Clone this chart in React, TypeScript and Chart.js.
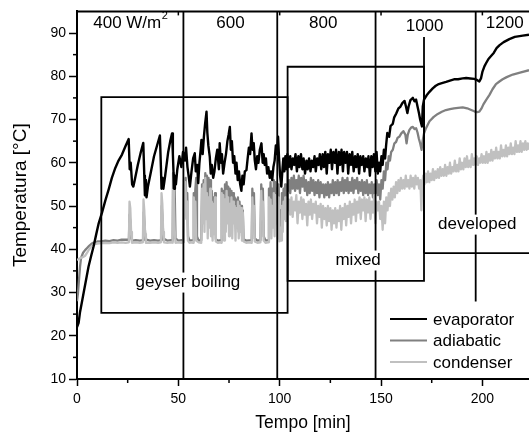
import { useEffect, useRef } from 'react';
import { Chart, registerables } from 'chart.js';

Chart.register(...registerables);

// ---------- axis ticks ----------
const xTickValues = [0, 50, 100, 150, 200];
const xMinorTicks = [25, 75, 125, 175];
const yTickValues = [10, 20, 30, 40, 50, 60, 70, 80, 90];
const yMinorTicks = [15, 25, 35, 45, 55, 65, 75, 85];

// ---------- series names ----------
const seriesNames = ['evaporator', 'adiabatic', 'condenser'];

// ---------- annotations (data units: minutes, °C) ----------
const powerLabels = ['400 W/m²', '600', '800', '1000', '1200'];
const powerLabelX = [26.3, 75.7, 121.5, 171.5, 211];
const powerLabelY = [92.2, 92.2, 92.2, 91.5, 92.2];
const regimeLabels = ['geyser boiling', 'mixed', 'developed'];
const regimeLabelX = [54.7, 138.7, 197.5];
const regimeLabelY = [32.3, 37.4, 45.7];
// vertical dividers: [time, from °C, to °C]
const dividers: [number, number, number][] = [
  [52.5, 10, 95],
  [98.8, 10, 95],
  [147.3, 10, 95],
  [196.7, 27.9, 95],
];
// boxes: [x0, x1, y0, y1]
const geyserBox = [12.0, 103.9, 25.3, 75.2];
const mixedBox = [103.9, 171.2, 32.7, 82.2];
const developedEdge = [171.2, 223, 39.1, 89.1];

// ---------- data [time min, temperature °C] ----------
const evaporator: [number, number][] = [
  [0, 22], [0.8, 23], [1.5, 25.5], [2.5, 28], [3.3, 30], [4.5, 33], [5.7, 36], [7, 38.5], [8.2, 40.7],
  [9.5, 43.5], [10.7, 46], [12.3, 48.4], [14, 51.3], [15.6, 53.8], [17.2, 56.5], [18.9, 58.8], [20.5, 60.5],
  [22.2, 61.9], [23.8, 63.7], [25.5, 65.5],
  [26, 58.5], [26.5, 60], [27.2, 55], [27.8, 54.5], [28.5, 56], [30, 59.5], [31.5, 62.5], [32.7, 64.6],
  [33.2, 57], [33.5, 52.5], [34, 56], [34.3, 52], [35, 54.5], [36.5, 58], [38, 61.5], [39.5, 64], [40.9, 66.3],
  [41.4, 59], [41.7, 54], [42.2, 56.5], [42.6, 54], [43.5, 57], [45, 62.5], [46, 65], [46.9, 66.8], [47.3, 62],
  [47.9, 54], [48.3, 57], [48.8, 55], [49.5, 58.5], [50.5, 61.5], [51.5, 59], [52.3, 62.5], [53.2, 60.5],
  [53.8, 63.5], [54.5, 59], [55.2, 56.5], [55.7, 54.5], [56.5, 58], [57.3, 61], [58.1, 62.2], [58.6, 58],
  [59.3, 59.5], [59.8, 55.3], [60.4, 60], [61, 63], [61.4, 65.3], [62, 62], [62.6, 66], [63.2, 69], [63.9, 71.8],
  [64.3, 67], [64.8, 64], [65.5, 61.4], [66, 57.5], [66.5, 59.5], [67.2, 56.5], [67.8, 58], [68.5, 61], [69.2, 63],
  [70, 58.5], [70.4, 64.5], [71, 60], [71.5, 62], [72.1, 57.5], [72.8, 60], [73.5, 62], [74.2, 65], [74.8, 66.5],
  [75.4, 68.3], [75.9, 63], [76.4, 65], [77, 60], [77.6, 61.5], [78.2, 57.5], [78.7, 60], [79.3, 56], [79.9, 58],
  [80.5, 55], [81.1, 53.5], [81.6, 57], [82.2, 55], [82.8, 58], [83.6, 58.3], [84.2, 61], [84.8, 63.5], [85.4, 62],
  [86.1, 66.8], [86.6, 63], [87.2, 64.5], [87.7, 60.6], [88.3, 58.5], [88.9, 61.5], [89.5, 60], [90.2, 63],
  [91, 64.5], [91.6, 60], [92.1, 62], [92.6, 59.5], [93.2, 61], [93.8, 57.5], [94.4, 59], [95.1, 56.5], [95.7, 58],
  [96.3, 56], [96.9, 59], [97.5, 60.5], [98.1, 64], [98.6, 62], [99.2, 66], [99.7, 61], [100.2, 57], [100.8, 54.5],
  [101.3, 58], [101.8, 61], [102.3, 58], [102.8, 61.5], [103.3, 58.5], [103.8, 62],
  [104.5, 59], [105.2, 61.5], [105.8, 58.5], [106.5, 61], [107.2, 59.5], [107.8, 62], [108.5, 58], [109.2, 61.5],
  [109.8, 59], [110.5, 62], [111.2, 58.5], [111.8, 61], [112.5, 57.5], [113.2, 60.5], [113.8, 58.5], [114.5, 61],
  [115.2, 58], [115.8, 60.5], [116.5, 59], [117.2, 61.5], [117.8, 58], [118.5, 61], [119.2, 59.5], [119.8, 62],
  [120.5, 58.5], [121.2, 62], [121.8, 59], [122.5, 62.5], [123.2, 57.5], [123.8, 62], [124.5, 60], [125.2, 63],
  [125.8, 58.5], [126.5, 62.5], [127.2, 60], [127.8, 63], [128.5, 57.5], [129.2, 62.5], [129.8, 59.5], [130.5, 63],
  [131.2, 58], [131.8, 62.5], [132.5, 60], [133.2, 62.5], [133.8, 57.5], [134.5, 62], [135.2, 59.5], [135.8, 62.5],
  [136.5, 58], [137.2, 61.5], [137.8, 59], [138.5, 62], [139.2, 57.5], [139.8, 61.5], [140.5, 59.5], [141.2, 61.5],
  [141.8, 58], [142.5, 61], [143.2, 59], [143.8, 61.5], [144.5, 57], [145.2, 61.5], [145.8, 59], [146.5, 62],
  [147.2, 58], [147.8, 62.5], [148.4, 57.5], [149, 60],
  [149.6, 58], [150.2, 61.5], [150.8, 59.5], [151.4, 63], [152, 61], [152.5, 64], [153.1, 66.9], [154, 66],
  [154.7, 68.5], [155.8, 69], [156.5, 70.5], [157.5, 71.4], [158.5, 72.5], [159.6, 73], [160.5, 73.8], [161.6, 74.3],
  [162.3, 73], [163, 71.5], [163.6, 73], [164.5, 74.5], [165.7, 75], [166.5, 74.2], [167.3, 74.6], [168, 73],
  [168.7, 71.5], [169.3, 70], [170.2, 68.4], [170.6, 73], [171.2, 74.6], [172.5, 75.6], [173.9, 76.4], [175.5, 77.2],
  [177, 77.8], [178.5, 78.2], [180, 78.4], [182.1, 78.7], [184, 79], [186, 79.3], [188, 79.3], [190.3, 79.5],
  [192, 79.6], [194, 79.5], [196, 79.4], [197.5, 79.1], [198.5, 78.8], [199.3, 79.5], [200, 81], [201, 82.3],
  [201.8, 83], [203, 84], [204.5, 84.8], [205.6, 85.4], [207, 86.5], [208.5, 87.2], [210.5, 87.9], [213.3, 88.6],
  [216, 89.1], [219.9, 89.4], [223, 89.6],
];

const adiabatic: [number, number][] = [
  [0, 28], [0.5, 30], [1, 33], [1.5, 36], [2, 38], [3, 39.2], [4, 39.8], [5, 40.3], [6, 40.8], [7, 41.2],
  [8, 41.5], [10, 41.8], [12, 41.8], [14, 42], [16, 41.9], [18, 42.1], [20, 42], [22, 42.2], [24, 42.2],
  [25.6, 42.2], [25.9, 48], [26.4, 46], [26.8, 42.5], [27.2, 42], [29, 42.1], [31, 42], [32.6, 42.1], [32.9, 48.5],
  [33.3, 46], [33.8, 42.3], [36, 42], [38, 42.1], [40, 42], [41.5, 42.1], [41.8, 50], [42.2, 47], [42.6, 42.5],
  [44.5, 42], [46.5, 42.1], [47.2, 42], [47.4, 57.6], [47.8, 55], [48.2, 53.5], [48.6, 42.5], [50, 42],
  [51.5, 42.1], [52.5, 42], [52.8, 55], [53.2, 53], [53.6, 56.5], [54, 50], [54.4, 53], [54.8, 43], [55.5, 42],
  [57.3, 42.1], [57.6, 53], [58, 50], [58.4, 54], [58.8, 56.5], [59.2, 43], [60, 42], [61.3, 42.1], [61.7, 55],
  [62.1, 50], [62.5, 56], [62.9, 48], [63.3, 57.6], [63.7, 52], [64.1, 57], [64.5, 49], [64.9, 56.5], [65.3, 51],
  [65.7, 56], [66.1, 47], [66.5, 53.5], [66.9, 44], [67.3, 52], [67.7, 45], [68.1, 53], [68.5, 42.3], [69.5, 42],
  [71.1, 42.1], [71.4, 54], [71.8, 47], [72.2, 53.5], [72.6, 49], [73, 55], [73.4, 50], [73.8, 55.5], [74.2, 51],
  [74.6, 54.5], [75, 50], [75.4, 54], [75.8, 49.5], [76.2, 53.5], [76.6, 48], [77, 53], [77.4, 49], [77.8, 52],
  [78.2, 47], [78.6, 51.5], [79, 47.5], [79.4, 52], [79.8, 44], [80.2, 51], [80.6, 45], [81, 50], [81.4, 43],
  [81.8, 49], [82.2, 42.3], [83.5, 42], [86.2, 42.1], [86.5, 54], [86.9, 50], [87.3, 53], [87.7, 42.5], [89, 42],
  [90.5, 42.1], [90.9, 55], [91.3, 51], [91.7, 54], [92.1, 43], [93, 42], [94.3, 42.1], [94.7, 54], [95.1, 49],
  [95.5, 55.5], [95.9, 47], [96.3, 54], [96.7, 50], [97.1, 56], [97.5, 48], [97.9, 55.5], [98.3, 50], [98.7, 54],
  [99.1, 46], [99.5, 55], [99.9, 44], [100.3, 49], [100.7, 44.5], [101.1, 53], [101.5, 48], [101.9, 54],
  [102.3, 50], [102.7, 55], [103.1, 51], [103.5, 54.5],
  [104, 53.5], [104.6, 56], [105.2, 53], [105.8, 56.5], [106.4, 54], [107, 57], [107.6, 53.5], [108.2, 56],
  [108.8, 54], [109.4, 57], [110, 53], [110.6, 56.5], [111.2, 54.5], [111.8, 57], [112.4, 53.5], [113, 56],
  [113.6, 52.5], [114.2, 55.5], [114.8, 53], [115.4, 56.5], [116, 53.5], [116.6, 56], [117.2, 52.5], [117.8, 55.5],
  [118.4, 53], [119, 56], [119.6, 52], [120.2, 55.5], [120.8, 53], [121.4, 55], [122, 52], [122.6, 55],
  [123.2, 52.5], [123.8, 55.5], [124.4, 52], [125, 55], [125.6, 53], [126.2, 56], [126.8, 52.5], [127.4, 55.5],
  [128, 53], [128.6, 56], [129.2, 52.5], [129.8, 55.5], [130.4, 53.5], [131, 56.5], [131.6, 53], [132.2, 56],
  [132.8, 53.5], [133.4, 56.5], [134, 53], [134.6, 55.5], [135.2, 53.5], [135.8, 56.5], [136.4, 53], [137, 56],
  [137.6, 54], [138.2, 56.5], [138.8, 53], [139.4, 55.5], [140, 53.5], [140.6, 56], [141.2, 52.5], [141.8, 55.5],
  [142.4, 53], [143, 56], [143.6, 52.5], [144.2, 55], [144.8, 53], [145.4, 55.5], [146, 52], [146.6, 55],
  [147.2, 53], [147.8, 56],
  [148.4, 52.5], [149, 55], [149.6, 51.5], [150.2, 56], [150.8, 54], [151.4, 58], [152, 56], [152.6, 60],
  [153.2, 58.5], [153.8, 61.5], [154.4, 60.5], [155, 62.5], [155.8, 63], [156.6, 64.5], [157.4, 64.8],
  [158.2, 65.8], [159, 66], [160, 66.8], [161, 67.3], [162, 66.5], [162.6, 64.5], [163.2, 66.5], [164, 67.6],
  [165, 68.2], [165.7, 68.3], [166.5, 67.8], [167.3, 68], [168, 67], [168.7, 65.5], [169.3, 64.5], [170, 63],
  [170.5, 65], [171.2, 66.8], [172, 67.8], [173.9, 69.6], [176, 70.6], [178, 71.3], [180, 71.8], [182, 72.2],
  [184, 72.4], [186, 72.6], [188, 72.7], [190.3, 72.8], [192.5, 72.6], [194.5, 72.2], [196, 71.9], [197.5, 71.7],
  [198.5, 71.8], [199.5, 72.5], [200.5, 73.5], [201.8, 74.5], [203.5, 75.7], [205, 77], [206.7, 78.2],
  [208.4, 78.8], [210, 79.3], [212, 79.8], [215, 80.4], [219, 80.9], [223, 81.4],
];

const condenser: [number, number][] = [
  [0, 37.5], [1, 37.8], [2, 38], [3, 38.2], [4, 38.5], [5, 39.2], [6, 40], [7, 40.6], [8, 41], [9, 41.2],
  [10, 41.3], [12, 41.4], [14, 41.5], [16, 41.4], [18, 41.6], [20, 41.5], [22, 41.6], [24, 41.5], [25.6, 41.6],
  [25.9, 51], [26.3, 49.5], [26.7, 44], [27.1, 41.5], [29, 41.6], [31, 41.5], [32.5, 41.6],
  [32.8, 51.5], [33.2, 49], [33.6, 43.5], [34, 41.5], [36, 41.5], [38, 41.6], [40, 41.5], [41.4, 41.6],
  [41.7, 53], [42.1, 50.5], [42.5, 44], [42.9, 41.6], [44.5, 41.5], [46.5, 41.6], [47.2, 41.5],
  [47.4, 53.7], [47.8, 51], [48.2, 44.5], [48.6, 41.5], [50, 41.6], [51.5, 41.5], [52.4, 41.6],
  [52.7, 56], [53.1, 50], [53.5, 55.5], [53.9, 47], [54.3, 51], [54.7, 42], [55.5, 41.5], [56.5, 41.6], [57.3, 41.5],
  [57.6, 52], [58, 48], [58.4, 51], [58.8, 42], [60, 41.6], [61.3, 41.5],
  [61.7, 54], [62.1, 46], [62.5, 55], [62.9, 44], [63.3, 56.5], [63.7, 47], [64.1, 53], [64.5, 42.5], [64.9, 52],
  [65.3, 45], [65.7, 54], [66.1, 43], [66.5, 51], [66.9, 42], [67.3, 50.5], [67.7, 43.5], [68.1, 52], [68.5, 41.8],
  [69.5, 41.5], [70.5, 41.6], [71.1, 41.5],
  [71.4, 53], [71.8, 45], [72.2, 52.5], [72.6, 42], [73, 51.5], [73.4, 44], [73.8, 53.5], [74.2, 46], [74.6, 52],
  [75, 43], [75.4, 50.5], [75.8, 44.5], [76.2, 52], [76.6, 42.5], [77, 51], [77.4, 46], [77.8, 50], [78.2, 42],
  [78.6, 49.5], [79, 45], [79.4, 51], [79.8, 42.5], [80.2, 50], [80.6, 44], [81, 49.5], [81.4, 42], [81.8, 48.5],
  [82.2, 41.8], [83.5, 41.5], [85, 41.6], [86.2, 41.5],
  [86.5, 52], [86.9, 47], [87.3, 50], [87.7, 41.8], [89, 41.5], [90.5, 41.6],
  [90.9, 53.5], [91.3, 47], [91.7, 51], [92.1, 42], [93, 41.5], [94.3, 41.6],
  [94.7, 52], [95.1, 44], [95.5, 51.5], [95.9, 42.5], [96.3, 50], [96.7, 45], [97.1, 53], [97.5, 43], [97.9, 52.5],
  [98.3, 46], [98.7, 50.5], [99.1, 42.5], [99.5, 52], [99.9, 41.8], [100.3, 45], [100.7, 42], [101.1, 50],
  [101.5, 44], [101.9, 51], [102.3, 47], [102.7, 52], [103.1, 46.5], [103.5, 51],
  [104, 49], [104.6, 51.5], [105.2, 48], [105.8, 52], [106.4, 47.5], [107, 51], [107.6, 49], [108.2, 52.5],
  [108.8, 46], [109.4, 51], [110, 48.5], [110.6, 52], [111.2, 47], [111.8, 51.5], [112.4, 48], [113, 50.5],
  [113.6, 45.5], [114.2, 51], [114.8, 48], [115.4, 51.5], [116, 47], [116.6, 50.5], [117.2, 48.5], [117.8, 51],
  [118.4, 46], [119, 50], [119.6, 47.5], [120.2, 50.5], [120.8, 45], [121.4, 50], [122, 47], [122.6, 49.5],
  [123.2, 45.5], [123.8, 50], [124.4, 46.5], [125, 49.5], [125.6, 44.5], [126.2, 49], [126.8, 46], [127.4, 49.5],
  [128, 45], [128.6, 49], [129.2, 46.5], [129.8, 50], [130.4, 44.5], [131, 49.5], [131.6, 47], [132.2, 50.5],
  [132.8, 45.5], [133.4, 50], [134, 47.5], [134.6, 51], [135.2, 46], [135.8, 50.5], [136.4, 48], [137, 51.5],
  [137.6, 46.5], [138.2, 51], [138.8, 48.5], [139.4, 52], [140, 47], [140.6, 51.5], [141.2, 49], [141.8, 52],
  [142.4, 46.5], [143, 51.5], [143.6, 48.5], [144.2, 52], [144.8, 47], [145.4, 51], [146, 48.5], [146.6, 52.5],
  [147.2, 46], [147.8, 51],
  [148.4, 49], [149, 51], [149.6, 47], [150.2, 50], [150.8, 44.5], [151.4, 51], [152, 46], [152.6, 52],
  [153.2, 49], [153.8, 53], [154.4, 50], [155, 54], [155.6, 51.5], [156.2, 54.5], [156.8, 52], [157.4, 55.5],
  [158, 53], [158.6, 56], [159.2, 53.5], [159.8, 56.5], [160.4, 54], [161, 56], [161.6, 54], [162.2, 57],
  [162.8, 54.5], [163.4, 56], [164, 54], [164.6, 57], [165.2, 54.5], [165.8, 56.5], [166.4, 54], [167, 57],
  [167.6, 55], [168.2, 56.5], [168.8, 54], [169.4, 56], [169.9, 49], [170.3, 55], [170.8, 57], [171.4, 55],
  [172, 57.5], [172.6, 55.5], [173.2, 58], [173.8, 55.5], [174.4, 57.5], [175, 56], [175.6, 58.5], [176.2, 56],
  [176.8, 58], [177.4, 56.5], [178, 58.5], [178.6, 56.5], [179.2, 59], [179.8, 57], [180.4, 58.5], [181, 57],
  [181.6, 59.5], [182.2, 57], [182.8, 59], [183.4, 57.5], [184, 60], [184.6, 57.5], [185.2, 59], [185.8, 58],
  [186.4, 60.5], [187, 58], [187.6, 59.5], [188.2, 58], [188.8, 61], [189.4, 58.5], [190, 60], [190.6, 58.5],
  [191.2, 61], [191.8, 59], [192.4, 61.5], [193, 59], [193.6, 60.5], [194.2, 59], [194.8, 62], [195.4, 59.5],
  [196, 61], [196.6, 59.5], [197.2, 61.5], [197.8, 59.5], [198.4, 61], [199, 60], [199.6, 62], [200.2, 60],
  [200.8, 61.5], [201.4, 60], [202, 62.5], [202.6, 60], [203.2, 62], [203.8, 60.5], [204.4, 63], [205, 60.5],
  [205.6, 62.5], [206.2, 61], [206.8, 63.5], [207.4, 61], [208, 62.5], [208.6, 61], [209.2, 64], [209.8, 61.5],
  [210.4, 63], [211, 61.5], [211.6, 64], [212.2, 61.5], [212.8, 63.5], [213.4, 62], [214, 64.5], [214.6, 62],
  [215.2, 63.5], [215.8, 62], [216.4, 65], [217, 62.5], [217.6, 64], [218.2, 62.5], [218.8, 65], [219.4, 62.5],
  [220, 64.5], [220.6, 63], [221.2, 65], [221.8, 63], [222.4, 64.5], [223, 63],
];

const seriesData = [evaporator, adiabatic, condenser];
const seriesColors = ['#000000', '#808080', '#c0c0c0'];
const seriesWidths = [2.4, 2.3, 2.3];

const FONT = '"Liberation Sans", Arial, Helvetica, sans-serif';

const overlayPlugin = {
  id: 'overlay',
  afterDatasetsDraw(chart: any) {
    const ctx: CanvasRenderingContext2D = chart.ctx;
    const xs = chart.scales.x;
    const ys = chart.scales.y;
    const X = (v: number) => xs.getPixelForValue(v);
    const Y = (v: number) => ys.getPixelForValue(v);
    const { left, right, top, bottom } = chart.chartArea;
    const seg = (x0: number, y0: number, x1: number, y1: number) => {
      ctx.beginPath();
      ctx.moveTo(x0, y0);
      ctx.lineTo(x1, y1);
      ctx.stroke();
    };
    ctx.save();
    ctx.strokeStyle = '#000';
    ctx.lineCap = 'butt';

    // frame top
    ctx.lineWidth = 2;
    seg(left - 1, top, right, top);
    // minor ticks
    ctx.lineWidth = 1.5;
    xMinorTicks.forEach((v) => seg(X(v), bottom, X(v), bottom + 4));
    yMinorTicks.forEach((v) => seg(left, Y(v), left - 4, Y(v)));
    // top ticks (inward)
    xTickValues.forEach((v) => seg(X(v), top, X(v), top + 4));

    // dividers
    ctx.lineWidth = 1.8;
    dividers.forEach(([t, a, b]) => seg(X(t), Y(a), X(t), Y(b)));
    // boxes
    const box = (b: number[]) => {
      ctx.beginPath();
      ctx.rect(X(b[0]), Y(b[3]), X(b[1]) - X(b[0]), Y(b[2]) - Y(b[3]));
      ctx.stroke();
    };
    box(geyserBox);
    box(mixedBox);
    seg(X(developedEdge[0]), Y(developedEdge[2]), X(developedEdge[1]), Y(developedEdge[2]));
    seg(X(developedEdge[0]), Y(developedEdge[2]), X(developedEdge[0]), Y(developedEdge[3]));

    // regime labels
    ctx.font = `17px ${FONT}`;
    ctx.textAlign = 'center';
    ctx.textBaseline = 'middle';
    regimeLabels.forEach((s, i) => {
      const w = ctx.measureText(s).width;
      const cx = X(regimeLabelX[i]);
      const cy = Y(regimeLabelY[i]);
      ctx.fillStyle = '#fff';
      ctx.fillRect(cx - w / 2 - 2, cy - 10, w + 4, 20);
      ctx.fillStyle = '#000';
      ctx.fillText(s, cx, cy);
    });
    // power labels (superscript handled separately)
    ctx.textAlign = 'left';
    powerLabels.forEach((s, i) => {
      const cx = X(powerLabelX[i]);
      const cy = Y(powerLabelY[i]);
      const hasSup = s.endsWith('²');
      const main = hasSup ? s.slice(0, -1) : s;
      ctx.font = `17px ${FONT}`;
      const w = ctx.measureText(main).width;
      ctx.font = `11px ${FONT}`;
      const ws = hasSup ? ctx.measureText('2').width : 0;
      const x0 = cx - (w + ws) / 2;
      ctx.fillStyle = '#fff';
      ctx.fillRect(x0 - 1, cy - 10, w + ws + 2, 20);
      ctx.fillStyle = '#000';
      ctx.font = `17px ${FONT}`;
      ctx.fillText(main, x0, cy);
      if (hasSup) {
        ctx.font = `11px ${FONT}`;
        ctx.fillText('2', x0 + w + 0.5, cy - 8);
      }
    });

    // legend
    const lx0 = 390, lx1 = 427, ly0 = 319, lstep = 21.5;
    ctx.fillStyle = '#fff';
    ctx.fillRect(lx0 - 2, ly0 - 11, 135, lstep * 2 + 22);
    ctx.font = `17px ${FONT}`;
    ctx.textAlign = 'left';
    seriesNames.forEach((n, i) => {
      const y = ly0 + i * lstep;
      ctx.strokeStyle = seriesColors[i];
      ctx.lineWidth = 2.2;
      seg(lx0, y, lx1, y);
      ctx.fillStyle = '#000';
      ctx.fillText(n, lx1 + 6, y + 1);
    });
    ctx.restore();
  },
};

export default function App() {
  const ref = useRef<HTMLCanvasElement | null>(null);
  useEffect(() => {
    document.body.style.margin = '0';
    const canvas = ref.current;
    if (!canvas) return;
    const orders = [0, 2, 1];
    const chart = new Chart(canvas, {
      type: 'line',
      data: {
        datasets: seriesNames.map((name, i) => ({
          label: name,
          data: seriesData[i].map(([x, y]) => ({ x, y })),
          borderColor: seriesColors[i],
          backgroundColor: seriesColors[i],
          borderWidth: seriesWidths[i],
          pointRadius: 0,
          tension: 0,
          fill: false,
          borderJoinStyle: 'round' as const,
          order: orders[i],
        })),
      },
      options: {
        animation: false,
        responsive: false,
        devicePixelRatio: 1,
        events: [],
        layout: { padding: { top: 11, right: 0, left: 0, bottom: 0 } },
        plugins: {
          legend: { display: false },
          tooltip: { enabled: false },
        },
        scales: {
          x: {
            type: 'linear',
            min: 0,
            max: 223,
            afterBuildTicks: (s: any) => {
              s.ticks = xTickValues.map((value) => ({ value }));
            },
            afterFit: (s: any) => {
              s.height = 58;
            },
            ticks: {
              color: '#000',
              font: { size: 14, family: FONT },
              padding: 5,
              maxRotation: 0,
              autoSkip: false,
            },
            grid: {
              display: true,
              drawOnChartArea: false,
              drawTicks: true,
              tickLength: 7,
              tickColor: '#000',
              tickWidth: 1.5,
              color: '#000',
            },
            border: { display: true, color: '#000', width: 2 },
            title: {
              display: true,
              text: 'Tempo [min]',
              color: '#000',
              font: { size: 17.5, family: FONT },
              padding: { top: 0, bottom: 3 },
            },
          },
          y: {
            type: 'linear',
            min: 10,
            max: 95,
            afterBuildTicks: (s: any) => {
              s.ticks = yTickValues.map((value) => ({ value }));
            },
            afterFit: (s: any) => {
              s.width = 77;
            },
            ticks: {
              color: '#000',
              font: { size: 14, family: FONT },
              padding: 3,
              autoSkip: false,
            },
            grid: {
              display: true,
              drawOnChartArea: false,
              drawTicks: true,
              tickLength: 8,
              tickColor: '#000',
              tickWidth: 1.5,
              color: '#000',
            },
            border: { display: true, color: '#000', width: 2 },
            title: {
              display: true,
              text: 'Temperatura [°C]',
              color: '#000',
              font: { size: 19, family: FONT },
              padding: { top: 9, bottom: 0 },
            },
          },
        },
      } as any,
      plugins: [overlayPlugin],
    });
    return () => chart.destroy();
  }, []);
  return <canvas ref={ref} width={529} height={437} style={{ display: 'block' }} />;
}
